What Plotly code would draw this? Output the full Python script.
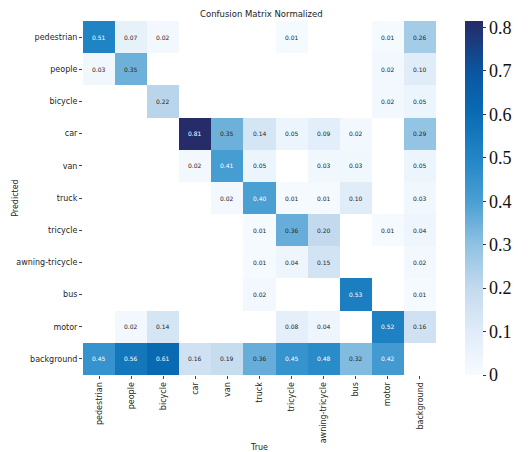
import plotly.graph_objects as go

classes = ["pedestrian", "people", "bicycle", "car", "van", "truck", "tricycle",
           "awning-tricycle", "bus", "motor", "background"]

# rows = predicted class, columns = true class (None = empty cell)
N = None
matrix = [
    [0.51, 0.07, 0.02, N, N, N, 0.01, N, N, 0.01, 0.26],
    [0.03, 0.35, N, N, N, N, N, N, N, 0.02, 0.10],
    [N, N, 0.22, N, N, N, N, N, N, 0.02, 0.05],
    [N, N, N, 0.81, 0.35, 0.14, 0.05, 0.09, 0.02, N, 0.29],
    [N, N, N, 0.02, 0.41, 0.05, N, 0.03, 0.03, N, 0.05],
    [N, N, N, N, 0.02, 0.40, 0.01, 0.01, 0.10, N, 0.03],
    [N, N, N, N, N, 0.01, 0.36, 0.20, N, 0.01, 0.04],
    [N, N, N, N, N, 0.01, 0.04, 0.15, N, N, 0.02],
    [N, N, N, N, N, 0.02, N, N, 0.53, N, 0.01],
    [N, 0.02, 0.14, N, N, N, 0.08, 0.04, N, 0.52, 0.16],
    [0.45, 0.56, 0.61, 0.16, 0.19, 0.36, 0.45, 0.48, 0.32, 0.42, N],
]
cbar_ticks = [0, 0.1, 0.2, 0.3, 0.4, 0.5, 0.6, 0.7, 0.8]
zmax = 0.815

# Blues-style ramp anchored at the colorbar tick values
ramp = [
    (0.0, "#f7fbff"), (0.1, "#e0ecf8"), (0.2, "#c3daee"), (0.3, "#8fc2e2"),
    (0.4, "#4a9fd3"), (0.5, "#2286c6"), (0.6, "#0a6cb3"), (0.7, "#0b55a0"),
    (zmax, "#262a66"),
]
colorscale = [[v / zmax, c] for v, c in ramp]

fig = go.Figure(go.Heatmap(
    z=matrix, x=classes, y=classes,
    colorscale=colorscale, zmin=0, zmax=zmax,
    hoverongaps=False,
    colorbar=dict(
        thickness=18, len=1.0, lenmode="fraction", x=1.082, xanchor="left",
        y=0.5, yanchor="middle", outlinewidth=0, xpad=0, ypad=0,
        tickvals=cbar_ticks, ticktext=[f"{t:g}" for t in cbar_ticks],
        ticks="outside", ticklen=3, tickcolor="#333",
        tickfont=dict(family="Liberation Serif", size=18, color="#111"),
    ),
))

annotations = []
for i, row in enumerate(matrix):
    for j, v in enumerate(row):
        if v is None:
            continue
        annotations.append(dict(
            x=classes[j], y=classes[i], text=f"{v:.2f}", showarrow=False,
            font=dict(family="DejaVu Sans", size=6,
                      color="#ffffff" if v >= 0.38 else "#262626"),
        ))

# y-axis title placed as a rotated label left of the tick labels
annotations.append(dict(
    text="Predicted", xref="paper", yref="paper", x=-0.193, y=0.5,
    textangle=-90, showarrow=False, xanchor="center", yanchor="middle",
    font=dict(family="DejaVu Sans", size=8, color="#262626"),
))

fig.update_layout(
    width=528, height=452,
    margin=dict(l=83, r=92, t=21, b=77, autoexpand=False),
    paper_bgcolor="white", plot_bgcolor="white",
    annotations=annotations,
    title=dict(text="Confusion Matrix Normalized", x=0.495, xanchor="center",
               y=0.968, yanchor="middle",
               font=dict(family="DejaVu Sans", size=8.5, color="#222")),
    font=dict(family="DejaVu Sans", size=8, color="#262626"),
)
fig.update_xaxes(
    title=dict(text="True", font=dict(size=8)),
    tickangle=-90, ticks="outside", ticklen=3, tickcolor="#444",
    showgrid=False, zeroline=False, showline=False, automargin=False,
    tickfont=dict(size=8),
)
fig.update_yaxes(
    autorange="reversed", ticks="outside", ticklen=3, tickcolor="#444",
    showgrid=False, zeroline=False, showline=False, automargin=False,
    tickfont=dict(size=8),
)

fig.write_html("out.html")
